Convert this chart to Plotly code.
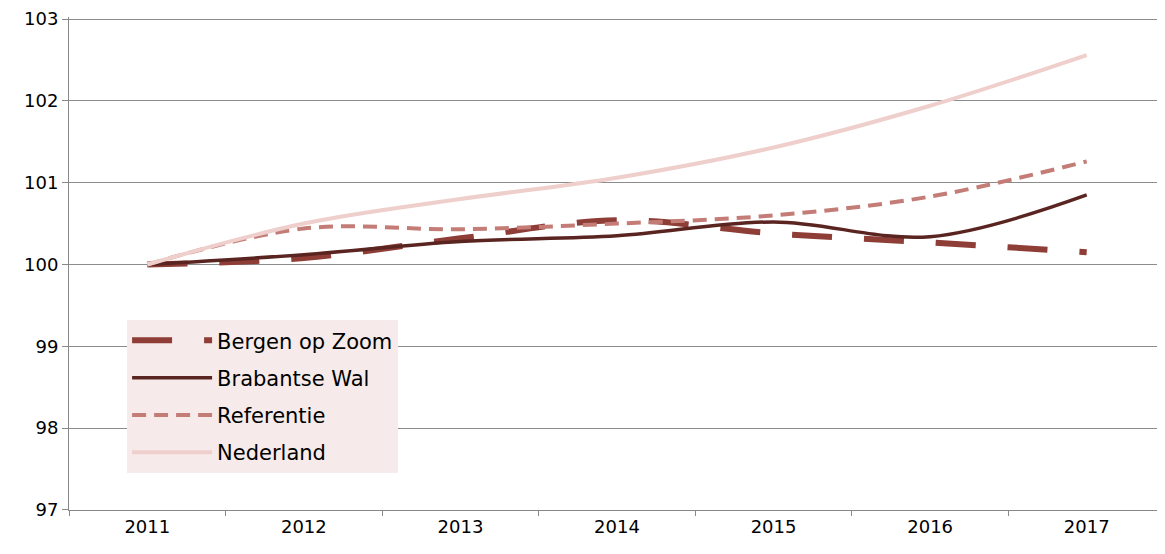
import plotly.graph_objects as go

years = ["2011", "2012", "2013", "2014", "2015", "2016", "2017"]
bergen = [100.0, 100.08, 100.32, 100.54, 100.38, 100.27, 100.15]
brabantse = [100.0, 100.12, 100.28, 100.35, 100.52, 100.34, 100.85]
referentie = [100.0, 100.44, 100.43, 100.50, 100.60, 100.83, 101.26]
nederland = [100.0, 100.50, 100.80, 101.06, 101.43, 101.94, 102.56]
y_ticks = [97, 98, 99, 100, 101, 102, 103]

fig = go.Figure()
fig.add_trace(go.Scatter(x=years, y=bergen, name="Bergen op Zoom", mode="lines", legendgroup="a",
                         line=dict(color="#8e3d37", width=6, dash="40px,32px", shape="spline")))
fig.add_trace(go.Scatter(x=years, y=brabantse, name="Brabantse Wal", mode="lines", legendgroup="b",
                         line=dict(color="#5a2420", width=3.5, shape="spline")))
fig.add_trace(go.Scatter(x=years, y=referentie, name="Referentie", mode="lines", legendgroup="c",
                         line=dict(color="#c47c76", width=4, dash="14px,8px", shape="spline")))
fig.add_trace(go.Scatter(x=years, y=nederland, name="Nederland", mode="lines", legendgroup="d",
                         line=dict(color="#eecfcc", width=4, shape="spline")))

fig.update_layout(
    width=1157, height=538,
    margin=dict(l=61, r=0, t=5, b=36),
    plot_bgcolor="white", paper_bgcolor="white",
    font=dict(family="DejaVu Sans", size=18, color="#000000"),
    showlegend=True,
    legend=dict(x=0.053, y=0.385, xanchor="left", yanchor="top",
                bgcolor="#f6ebea", font=dict(size=21, family="DejaVu Sans"),
                traceorder="grouped", itemwidth=80, tracegroupgap=7),
    xaxis=dict(type="category", tickson="boundaries", ticks="outside", ticklen=5,
               tickcolor="#888888", showline=True, linecolor="#888888", linewidth=1,
               showgrid=False, range=[-0.5, 6.5], tickfont=dict(size=18)),
    yaxis=dict(range=[96.999, 103.025], tickvals=y_ticks, ticks="outside", ticklen=6,
               tickcolor="#888888", showline=True, linecolor="#888888", linewidth=1,
               showgrid=True, gridcolor="#8c8c8c", gridwidth=1, zeroline=False,
               ticklabeloverflow="allow", tickfont=dict(size=18)),
)
fig.write_html("out.html")
